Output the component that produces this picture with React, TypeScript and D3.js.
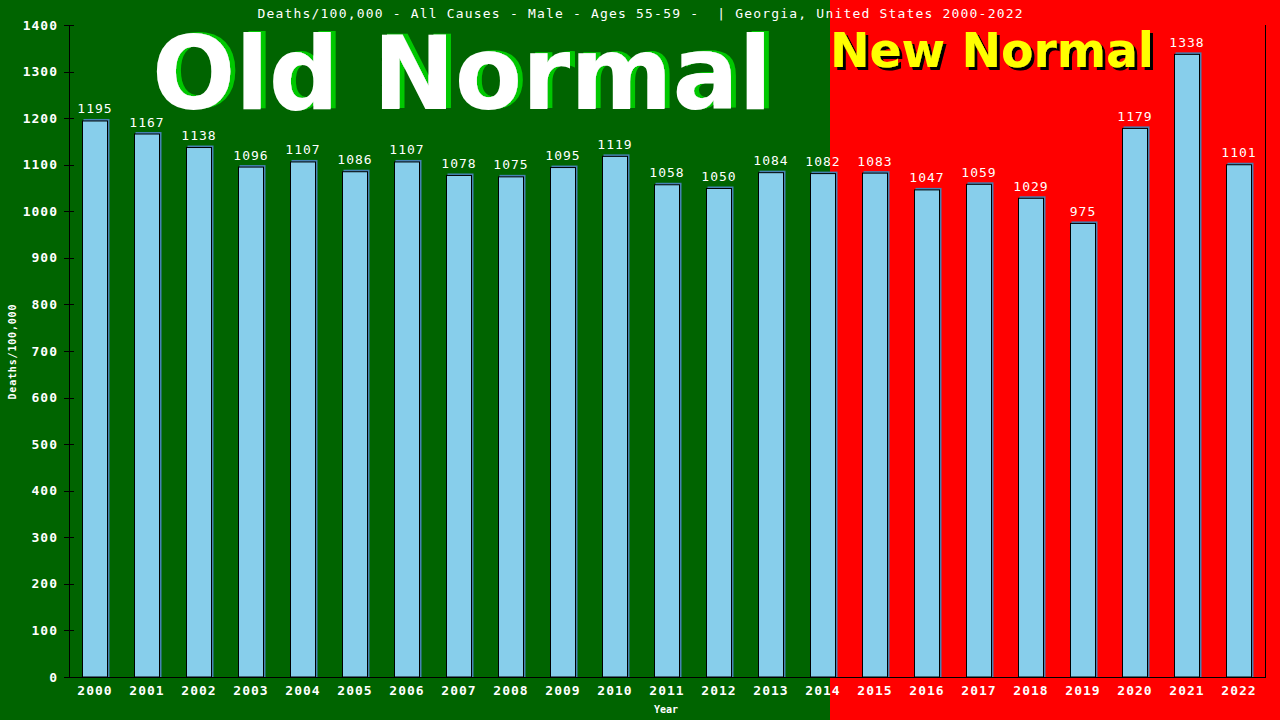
import * as d3 from 'd3';

const years = ['2000', '2001', '2002', '2003', '2004', '2005', '2006', '2007', '2008', '2009', '2010', '2011',
  '2012', '2013', '2014', '2015', '2016', '2017', '2018', '2019', '2020', '2021', '2022'];
const deaths = [1195, 1167, 1138, 1096, 1107, 1086, 1107, 1078, 1075, 1095, 1119, 1058,
  1050, 1084, 1082, 1083, 1047, 1059, 1029, 975, 1179, 1338, 1101];
const yTicks = [0, 100, 200, 300, 400, 500, 600, 700, 800, 900, 1000, 1100, 1200, 1300, 1400];

const W = 1280;
const H = 720;
const left = 69;
const right = 1265;
const top = 25;
const bottom = 677;
const split = 830;

const mono = '"DejaVu Sans Mono", "Liberation Mono", monospace';
const bold = '"DejaVu Sans", Verdana, sans-serif';

export default function App() {
  const x = d3.scaleBand<string>()
    .domain(years)
    .range([left, right])
    .paddingInner(0.5)
    .paddingOuter(0.25);

  const y = d3.scaleLinear()
    .domain([0, 1400])
    .range([bottom, top]);

  const bw = x.bandwidth();

  return (
    <div style={{ position: 'fixed', left: 0, top: 0 }}>
      <svg width={W} height={H} style={{ display: 'block' }}>
        <defs>
          {/* shadow copies done as filters, so each label is one text */}
          <filter id="greenShadow" x="-10%" y="-10%" width="120%" height="120%">
            <feOffset in="SourceAlpha" dx={5} dy={-1} result="off" />
            <feFlood floodColor="#00c800" />
            <feComposite operator="in" in2="off" result="sh" />
            <feMerge>
              <feMergeNode in="sh" />
              <feMergeNode in="SourceGraphic" />
            </feMerge>
          </filter>
          <filter id="blackShadow" x="-10%" y="-10%" width="120%" height="120%">
            <feOffset in="SourceAlpha" dx={3} dy={3} result="off" />
            <feFlood floodColor="#000000" />
            <feComposite operator="in" in2="off" result="sh" />
            <feMerge>
              <feMergeNode in="sh" />
              <feMergeNode in="SourceGraphic" />
            </feMerge>
          </filter>
        </defs>

        {/* background halves */}
        <rect x={0} y={0} width={split} height={H} fill="#006400" />
        <rect x={split} y={0} width={W - split} height={H} fill="#ff0000" />

        {/* big labels */}
        <text x={152} y={109} fontFamily={bold} fontWeight="bold" fontSize={102} fill="#ffffff"
          textLength={620} lengthAdjust="spacingAndGlyphs" filter="url(#greenShadow)">Old Normal</text>
        <text x={830} y={67} fontFamily={bold} fontWeight="bold" fontSize={48} fill="#ffff00"
          textLength={324} lengthAdjust="spacingAndGlyphs" filter="url(#blackShadow)">New Normal</text>

        {/* title */}
        <text x={640} y={18} textAnchor="middle" fontFamily={mono} fontSize={13} fill="#ffffff"
          textLength={765} lengthAdjust="spacing" style={{ whiteSpace: 'pre' }}>
          {'Deaths/100,000 - All Causes - Male - Ages 55-59 -  | Georgia, United States 2000-2022'}
        </text>

        {/* bars */}
        {years.map((yr, i) => {
          const bx = x(yr) as number;
          const by = y(deaths[i]);
          return (
            <g key={yr}>
              <rect x={bx + 1.5} y={by - 1.5} width={bw} height={bottom - by + 1.5} fill="#4682b4" />
              <rect x={bx + 0.5} y={by + 0.5} width={bw - 1} height={bottom - by - 0.5}
                fill="#87ceeb" stroke="#000000" strokeWidth={1} />
              <text x={bx + bw / 2} y={by - 7} textAnchor="middle" fontFamily={mono} fontSize={13}
                letterSpacing={1} fill="#ffffff">{deaths[i]}</text>
            </g>
          );
        })}

        {/* axes */}
        <line x1={left + 0.5} x2={left + 0.5} y1={top} y2={bottom} stroke="#000" />
        <line x1={right + 0.5} x2={right + 0.5} y1={top} y2={bottom} stroke="#000" />
        <line x1={64} x2={right + 1} y1={bottom + 0.5} y2={bottom + 0.5} stroke="#000" />
        {yTicks.map(t => (
          <g key={t}>
            <line x1={64} x2={74} y1={Math.round(y(t)) + 0.5} y2={Math.round(y(t)) + 0.5} stroke="#000" />
            <text x={58} y={y(t) + 4.5} textAnchor="end" fontFamily={mono} fontSize={13}
              letterSpacing={1} fontWeight="bold" fill="#ffffff">{t}</text>
          </g>
        ))}
        {years.map(yr => (
          <text key={yr} x={(x(yr) as number) + bw / 2} y={695} textAnchor="middle" fontFamily={mono}
            fontSize={13} letterSpacing={1} fontWeight="bold" fill="#ffffff">{yr}</text>
        ))}

        {/* axis titles */}
        <text x={666} y={713} textAnchor="middle" fontFamily={mono} fontSize={10} fontWeight="bold"
          fill="#ffffff">Year</text>
        <text transform="translate(16,352) rotate(-90)" textAnchor="middle" fontFamily={mono}
          fontSize={10} fontWeight="bold" fill="#ffffff" textLength={95} lengthAdjust="spacing">
          Deaths/100,000
        </text>
      </svg>
    </div>
  );
}
